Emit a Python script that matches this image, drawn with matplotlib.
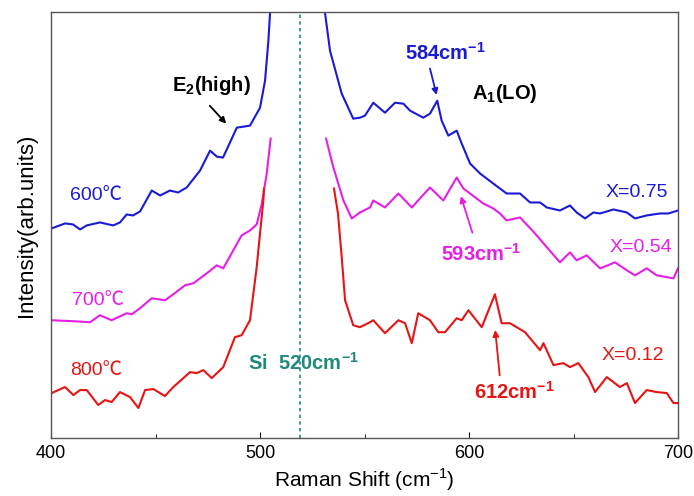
import matplotlib
matplotlib.use("Agg")
import matplotlib.pyplot as plt
from matplotlib.ticker import MultipleLocator

plt.rcParams['font.family'] = ['Liberation Sans', 'Noto Sans CJK SC', 'DejaVu Sans']
plt.rcParams['mathtext.fontset'] = 'custom'
plt.rcParams['mathtext.rm'] = 'Liberation Sans'
plt.rcParams['mathtext.bf'] = 'Liberation Sans:bold'

# ---- data (intensity in arbitrary units) ----
blue_left_x = [400.3, 406.7, 410.5, 413.9, 417.1, 423.4, 429.7, 433, 436.2, 439.2, 442.6, 448.2, 452.2,
               456.9, 460.8, 464.9, 471.3, 476.1, 479.3, 482.3, 488.9, 495.2, 500, 502.4, 504, 505.2, 505.8]
blue_left_y = [210, 215, 214, 209, 213, 216, 213, 216, 224, 223, 227, 248, 243,
               248, 246, 251, 268, 288, 282, 281, 311, 313, 331, 358, 398, 440, 470]
blue_right_x = [530.2, 531.1, 533.5, 539.1, 544.6, 547.8, 550.2, 554.2, 559.8, 564.6, 568.6, 571.8, 578.1,
                581.3, 584.8, 586.9, 590.1, 594.1, 596.5, 600.5, 605.3, 611.6, 618, 624.4, 629.2, 634,
                637.2, 643.5, 648.3, 651.5, 655.5, 659.5, 662.7, 669.1, 675.5, 679.4, 685, 691.4, 695.4, 700]
blue_right_y = [470, 426, 388, 345, 320, 321, 323, 336, 326, 336, 335, 328, 321,
                325, 338, 318, 303, 308, 295, 275, 265, 255, 245, 245, 236, 236,
                231, 228, 233, 226, 220, 226, 225, 229, 226, 220, 223, 225, 225, 228]

mag_left_x = [400.3, 410.7, 418.7, 423.4, 429, 436.2, 438.6, 442.6, 448.2, 454.5, 458.5, 464.1, 468.1,
              474.5, 479.3, 482.4, 487.2, 491.2, 495.2, 498.4, 500.8, 503.2, 505.1]
mag_left_y = [118, 117, 116, 123, 118, 125, 124, 130, 140, 138, 144, 153, 155,
              165, 173, 170, 188, 203, 208, 214, 234, 265, 300]
mag_right_x = [531.6, 535.1, 539.9, 543.9, 547.8, 552.6, 554.2, 559.8, 566.2, 572.6, 581.3, 587.7, 594.1,
               597.3, 600.5, 606.8, 611.6, 614.8, 618, 624.4, 630.7, 643.5, 648.3, 651.5, 656.3, 662.7,
               669.9, 675.5, 679.4, 685, 689.8, 697.8, 700]
mag_right_y = [300, 271, 238, 220, 226, 231, 238, 231, 245, 231, 251, 238, 261,
               250, 245, 235, 230, 225, 218, 221, 207, 176, 186, 178, 183, 170,
               176, 168, 163, 170, 163, 160, 170]

red_left_x = [400.3, 406.7, 410.7, 413.9, 417.1, 422.6, 425.8, 429, 433, 437.8, 441.8, 445, 449,
              454.5, 458.5, 466.5, 469.7, 472.9, 476.9, 482.4, 488, 491.2, 495.2, 498.4, 500, 501.6, 501.9]
red_left_y = [45, 51, 43, 48, 48, 33, 38, 36, 46, 41, 30, 48, 49,
              42, 51, 66, 65, 68, 60, 71, 101, 103, 118, 171, 205, 238, 250]
red_right_x = [535.4, 537.3, 539.1, 540.7, 544.6, 547.8, 552.6, 554.2, 559.8, 566.2, 569.4, 572.6, 575.7,
               581.3, 585.3, 588.5, 594.1, 596.5, 599.7, 606.1, 612.4, 615.6, 619.6, 626.8, 630.8, 634,
               635.6, 640.4, 645.1, 648.3, 652.3, 657.1, 660.3, 665.9, 672.2, 675.5, 679.4, 685, 689.8,
               694.6, 697.8, 700]
red_right_y = [250, 225, 181, 138, 113, 111, 116, 118, 105, 118, 115, 95, 125,
               118, 106, 106, 120, 118, 128, 111, 144, 115, 115, 106, 96, 88,
               95, 73, 75, 71, 75, 61, 46, 61, 51, 55, 35, 48, 46,
               45, 35, 35]

si_line_x = 519

BLUE = '#1a1ad6'
MAG = '#e61ee6'
RED = '#e61414'
TEAL = '#1f8a7a'

fig = plt.figure(figsize=(6.94, 4.96), dpi=100)
ax = fig.add_axes([0.0735, 0.117, 0.9035, 0.859])

lw = 1.5
ax.plot(blue_left_x, blue_left_y, color=BLUE, lw=lw)
ax.plot(blue_right_x, blue_right_y, color=BLUE, lw=lw)
ax.plot(mag_left_x, mag_left_y, color=MAG, lw=lw)
ax.plot(mag_right_x, mag_right_y, color=MAG, lw=lw)
ax.plot(red_left_x, red_left_y, color=RED, lw=lw)
ax.plot(red_right_x, red_right_y, color=RED, lw=lw)
ax.axvline(si_line_x, color=TEAL, ls=(0, (2, 2)), lw=1.2)

ax.set_xlim(400, 700)
ax.set_ylim(0, 427)
ax.xaxis.set_major_locator(MultipleLocator(100))
ax.xaxis.set_minor_locator(MultipleLocator(50))
ax.tick_params(axis='x', which='both', direction='in', top=False, labelsize=13, pad=5)
ax.tick_params(axis='x', which='major', length=4)
ax.tick_params(axis='x', which='minor', length=3)
ax.set_yticks([])
for s in ax.spines.values():
    s.set_color('#555555')
    s.set_linewidth(1.0)

ax.set_xlabel('Raman Shift (cm$^{-1}$)', fontsize=15, labelpad=3)
ax.set_ylabel('Intensity(arb.units)', fontsize=16, labelpad=10)

fs = 14
bfs = 14.5
# sample labels
ax.text(409, 243, '600℃', color=BLUE, fontsize=fs, va='center', ha='left')
ax.text(410, 138, '700℃', color=MAG, fontsize=fs, va='center', ha='left')
ax.text(409, 68, '800℃', color=RED, fontsize=fs, va='center', ha='left')
ax.text(695.2, 246, 'X=0.75', color=BLUE, fontsize=fs, va='center', ha='right')
ax.text(697, 191, 'X=0.54', color=MAG, fontsize=fs, va='center', ha='right')
ax.text(693.3, 83, 'X=0.12', color=RED, fontsize=fs, va='center', ha='right')

# mode labels
ax.text(477, 353, 'E$_\\mathbf{2}$(high)', color='black', fontsize=bfs, fontweight='bold', ha='center', va='center')
ax.annotate('', xy=(484.7, 313), xytext=(475.1, 335),
            arrowprops=dict(arrowstyle='-|>', color='black', lw=1.3, mutation_scale=9))
ax.text(617.2, 345, 'A$_\\mathbf{1}$(LO)', color='black', fontsize=bfs, fontweight='bold', ha='center', va='center')

ax.text(588.5, 386, '584cm$^{\\mathbf{-1}}$', color=BLUE, fontsize=bfs, fontweight='bold', ha='center', va='center')
ax.annotate('', xy=(584.8, 341), xytext=(581, 373),
            arrowprops=dict(arrowstyle='-|>', color=BLUE, lw=1.3, mutation_scale=9))

ax.text(605.7, 185, '593cm$^{\\mathbf{-1}}$', color=MAG, fontsize=bfs, fontweight='bold', ha='center', va='center')
ax.annotate('', xy=(595.7, 245), xytext=(602, 203),
            arrowprops=dict(arrowstyle='-|>', color=MAG, lw=1.3, mutation_scale=9))

ax.text(621.5, 46, '612cm$^{\\mathbf{-1}}$', color=RED, fontsize=bfs, fontweight='bold', ha='center', va='center')
ax.annotate('', xy=(612.4, 111), xytext=(614.8, 60),
            arrowprops=dict(arrowstyle='-|>', color=RED, lw=1.3, mutation_scale=9))

ax.text(520.6, 75, 'Si  520cm$^{\\mathbf{-1}}$', color=TEAL, fontsize=bfs, fontweight='bold', ha='center', va='center')

fig.savefig('out.png', dpi=100)
